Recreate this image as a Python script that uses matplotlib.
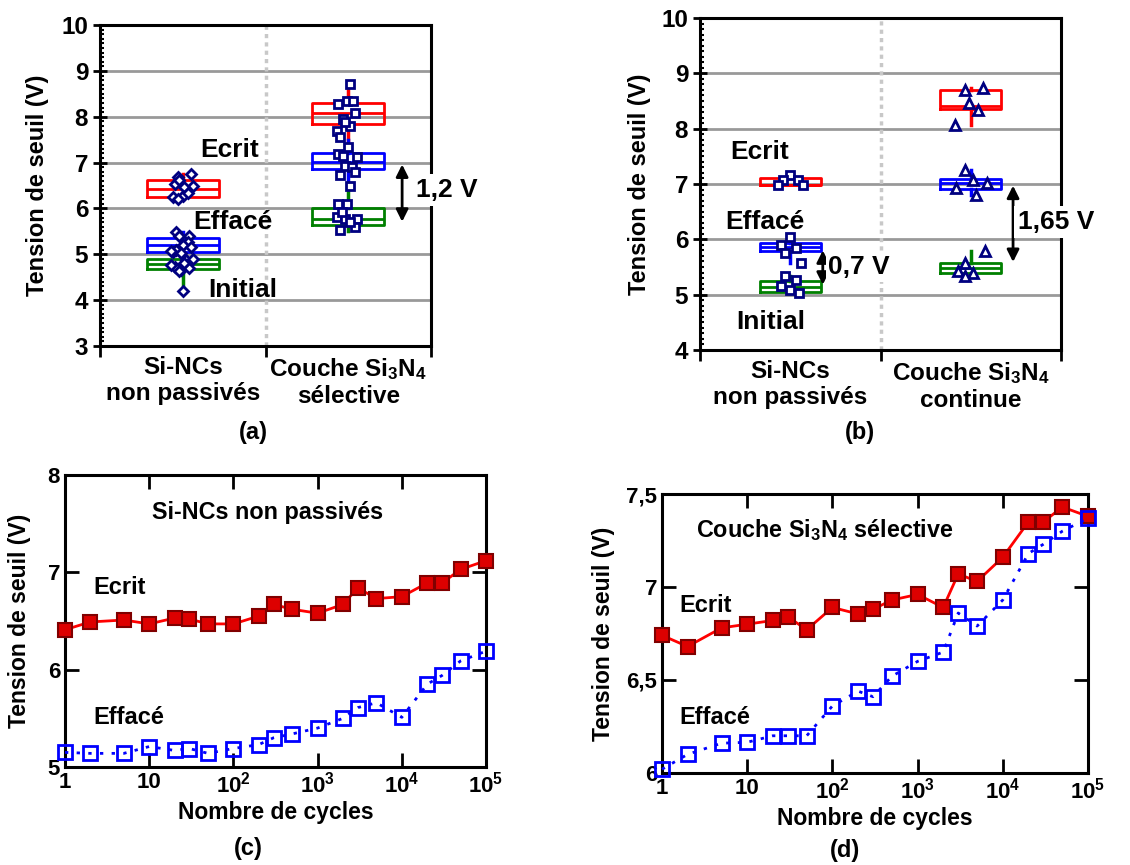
import numpy as np
import matplotlib
matplotlib.use('Agg')
import matplotlib.pyplot as plt
from matplotlib.ticker import MultipleLocator, FixedLocator, FixedFormatter

plt.rcParams['font.family'] = ['Liberation Sans', 'DejaVu Sans']
plt.rcParams['font.weight'] = 'bold'
plt.rcParams['axes.labelweight'] = 'bold'
plt.rcParams['mathtext.fontset'] = 'custom'
plt.rcParams['mathtext.rm'] = 'Liberation Sans:bold'
plt.rcParams['mathtext.bf'] = 'Liberation Sans:bold'
plt.rcParams['mathtext.default'] = 'bf'

# ---------------- données ----------------
etats = ['Ecrit', 'Effacé', 'Initial']
couleurs = {'Ecrit': '#ff0000', 'Effacé': '#0000ff', 'Initial': '#008000'}

cat_a = ['Si-NCs\nnon passivés', 'Couche Si$_3$N$_4$\nsélective']
cat_b = ['Si-NCs\nnon passivés', 'Couche Si$_3$N$_4$\ncontinue']

# boîtes : [min, Q1, médiane, Q3, max] pour chaque catégorie
box_a = {
    'Ecrit':   [[6.20, 6.24, 6.43, 6.61, 6.75], [7.50, 7.85, 8.08, 8.30, 8.70]],
    'Effacé':  [[5.00, 5.04, 5.20, 5.35, 5.48], [6.45, 6.87, 7.02, 7.20, 7.50]],
    'Initial': [[4.20, 4.67, 4.78, 4.89, 5.05], [5.50, 5.65, 5.78, 6.02, 6.35]],
}
box_b = {
    'Ecrit':   [[6.98, 6.98, 6.98, 7.10, 7.17], [8.07, 8.36, 8.41, 8.70, 8.73]],
    'Effacé':  [[5.57, 5.78, 5.86, 5.93, 6.05], [6.80, 6.91, 7.01, 7.09, 7.26]],
    'Initial': [[5.03, 5.04, 5.14, 5.25, 5.33], [5.33, 5.40, 5.48, 5.57, 5.78]],
}

# points mesurés (décalage horizontal, valeur)
pts_a_gauche_dx = [-0.03, 0.05, 0.06, -0.05, 0.01, 0.0, -0.06, -0.03, 0.03, -0.02,
                   -0.04, -0.02, 0.04, 0.03, -0.06, -0.04, 0.0, 0.05, -0.01, -0.07,
                   0.02, 0.06, -0.05, -0.01, 0.04, 0.01, -0.07, -0.02, 0.0]
pts_a_gauche_v = [6.68, 6.75, 6.50, 6.54, 6.46, 6.28, 6.25, 6.21, 6.33, 6.61,
                  5.48, 5.41, 5.41, 5.27, 5.05, 5.09, 5.20, 5.16, 5.02, 5.07,
                  4.87, 4.89, 4.72, 4.65, 4.70, 4.80, 4.76, 4.63, 4.20]
pts_a_droite_dx = [0.01, -0.06, -0.01, 0.03, 0.04, -0.03, 0.01, -0.07, -0.05, -0.02,
                   0.0, -0.06, -0.03, 0.05, -0.02, 0.02, 0.04, -0.05, 0.01,
                   -0.06, -0.01, -0.07, -0.02, 0.05, -0.04, 0.04, -0.05, 0.01]
pts_a_droite_v = [8.71, 8.28, 8.35, 8.35, 8.09, 7.95, 7.80, 7.70, 7.55, 7.88,
                  7.33, 7.19, 7.15, 7.12, 6.93, 6.90, 6.79, 6.72, 6.50,
                  6.10, 6.10, 5.81, 5.78, 5.78, 5.92, 5.59, 5.52, 5.70]
pts_b_gauche_dx = [0.0, -0.04, 0.04, -0.07, 0.07, 0.0, -0.05, 0.03, -0.03, 0.06,
                   -0.03, 0.03, -0.05, 0.05, 0.0]
pts_b_gauche_v = [7.17, 7.08, 7.08, 6.99, 6.99, 6.05, 5.90, 5.84, 5.75, 5.57,
                  5.33, 5.27, 5.15, 5.03, 5.09]
pts_b_droite_dx = [-0.03, 0.07, -0.01, 0.04, -0.09, -0.03, 0.01, 0.09, -0.08, 0.03,
                   0.08, -0.03, -0.07, 0.01, -0.03]
pts_b_droite_v = [8.70, 8.73, 8.46, 8.34, 8.07, 7.26, 7.08, 7.02, 6.93, 6.80,
                  5.78, 5.57, 5.42, 5.39, 5.33]

# cyclage
cycles = [1, 2, 5, 10, 20, 30, 50, 100, 200, 300, 500, 1000, 2000, 3000, 5000,
          1e4, 2e4, 3e4, 5e4, 1e5]
ecrit_c = [6.41, 6.49, 6.51, 6.47, 6.53, 6.52, 6.47, 6.47, 6.55, 6.67,
           6.62, 6.58, 6.67, 6.84, 6.73, 6.75, 6.89, 6.89, 7.03, 7.12]
efface_c = [5.15, 5.14, 5.14, 5.21, 5.17, 5.19, 5.14, 5.19, 5.23, 5.30,
            5.34, 5.40, 5.50, 5.61, 5.66, 5.51, 5.85, 5.94, 6.09, 6.19]
ecrit_d = [6.74, 6.68, 6.78, 6.80, 6.82, 6.84, 6.77, 6.89, 6.855, 6.88,
           6.93, 6.96, 6.89, 7.07, 7.03, 7.16, 7.35, 7.35, 7.43, 7.38]
efface_d = [6.02, 6.10, 6.16, 6.165, 6.20, 6.20, 6.20, 6.36, 6.44, 6.41,
            6.52, 6.60, 6.65, 6.86, 6.79, 6.93, 7.18, 7.23, 7.30, 7.37]

fig = plt.figure(figsize=(11.3, 8.65), dpi=100)


def gras(ax):
    for t in ax.get_xticklabels(which='both') + ax.get_yticklabels(which='both'):
        t.set_fontweight('bold')


def panneau_boites(ax, boxes, cats, width, ylim, gauche_dx, gauche_v, droite_dx, droite_v,
                   m_gauche, m_droite):
    ax.set_xlim(0, 2)
    ax.set_ylim(*ylim)
    for y in range(ylim[0] + 1, ylim[1]):
        ax.axhline(y, color='#999999', lw=2, zorder=0)
    ax.axvline(1, color='#c8c8c8', lw=2.5, ls=(0, (1.2, 1.2)), zorder=0)
    for etat in etats:
        stats = []
        for s in boxes[etat]:
            stats.append(dict(whislo=s[0], q1=s[1], med=s[2], q3=s[3], whishi=s[4], fliers=[]))
        c = couleurs[etat]
        ax.bxp(stats, positions=[0.5, 1.5], widths=width, showcaps=False, showfliers=False,
               manage_ticks=False,
               boxprops=dict(color=c, lw=2.0), medianprops=dict(color=c, lw=2.0),
               whiskerprops=dict(color=c, lw=2.5), zorder=2)
    tailles = {'D': 5, 's': 5.5, '^': 6.5}
    ax.plot(0.5 + np.array(gauche_dx), gauche_v, ls='none', marker=m_gauche,
            ms=tailles[m_gauche], mfc='white', mec='#000080', mew=2, zorder=3)
    ax.plot(1.5 + np.array(droite_dx), droite_v, ls='none', marker=m_droite,
            ms=tailles[m_droite], mfc='white', mec='#000080', mew=2, zorder=3)
    ax.set_xticks([0, 1, 2])
    ax.set_xticklabels([])
    ax.set_xticks([0.5, 1.5], cats, minor=True)
    ax.tick_params(axis='x', which='major', direction='out', length=8, width=2)
    ax.tick_params(axis='x', which='minor', length=0, labelsize=17.5, pad=7)
    ax.yaxis.set_major_locator(MultipleLocator(1))
    ax.yaxis.set_minor_locator(MultipleLocator(0.1))
    ax.tick_params(axis='y', which='major', direction='inout', length=10, width=2, labelsize=17.5)
    ax.tick_params(axis='y', which='minor', direction='in', length=3, width=1.5)
    for sp in ax.spines.values():
        sp.set_linewidth(2.2)
    ax.set_ylabel('Tension de seuil (V)', fontsize=17, fontweight='bold')
    gras(ax)


# (a)
ax_a = fig.add_axes([0.0885, 0.600, 0.293, 0.371])
panneau_boites(ax_a, box_a, cat_a, 0.435, (3, 10), pts_a_gauche_dx, pts_a_gauche_v,
               pts_a_droite_dx, pts_a_droite_v, 'D', 's')
ax_a.text(0.78, 7.28, 'Ecrit', fontsize=19, ha='center', va='center')
ax_a.text(0.80, 5.70, 'Effacé', fontsize=19, ha='center', va='center')
ax_a.text(0.86, 4.22, 'Initial', fontsize=19, ha='center', va='center')
ax_a.annotate('', xy=(1.825, 5.65), xytext=(1.825, 7.02),
              arrowprops=dict(arrowstyle='<|-|>', color='black', lw=2, mutation_scale=18))
ax_a.text(1.91, 6.4, '1,2 V', fontsize=19, ha='left', va='center', clip_on=False, zorder=5,
          bbox=dict(boxstyle='square,pad=0.15', fc='white', ec='none'))
ax_a.yaxis.set_label_coords(-0.155, 0.5)

# (b)
ax_b = fig.add_axes([0.6195, 0.5954, 0.3195, 0.3838])
panneau_boites(ax_b, box_b, cat_b, 0.34, (4, 10), pts_b_gauche_dx, pts_b_gauche_v,
               pts_b_droite_dx, pts_b_droite_v, 's', '^')
ax_b.text(0.33, 7.58, 'Ecrit', fontsize=19, ha='center', va='center')
ax_b.text(0.36, 6.32, 'Effacé', fontsize=19, ha='center', va='center')
ax_b.text(0.39, 4.51, 'Initial', fontsize=19, ha='center', va='center')
ax_b.annotate('', xy=(0.68, 5.13), xytext=(0.68, 5.85),
              arrowprops=dict(arrowstyle='<|-|>', color='black', lw=2, mutation_scale=18))
ax_b.text(0.71, 5.5, '0,7 V', fontsize=19, ha='left', va='center', zorder=5,
          bbox=dict(boxstyle='square,pad=0.1', fc='white', ec='none'))
ax_b.annotate('', xy=(1.734, 5.54), xytext=(1.734, 7.02),
              arrowprops=dict(arrowstyle='<|-|>', color='black', lw=2, mutation_scale=18))
ax_b.text(1.76, 6.32, '1,65 V', fontsize=19, ha='left', va='center', clip_on=False, zorder=5,
          bbox=dict(boxstyle='square,pad=0.15', fc='white', ec='none'))
ax_b.yaxis.set_label_coords(-0.135, 0.5)


def panneau_cycles(ax, ecrit, efface, ylim, yticks, ylabels, titre, pos_titre, pos_ecrit, pos_efface):
    ax.set_xscale('log')
    ax.set_xlim(1, 1e5)
    ax.set_ylim(*ylim)
    ax.plot(cycles, ecrit, '-', color='#ff0000', lw=2, marker='s', ms=10,
            mfc='#dd0000', mec='#800000', mew=1.5, clip_on=False, zorder=3)
    ax.plot(cycles, efface, ls=(0, (1.2, 3)), color='#0000ff', lw=2, marker='s', ms=10,
            mfc='none', mec='#0000ff', mew=2, clip_on=False, zorder=3)
    ax.xaxis.set_major_locator(FixedLocator([1, 10, 100, 1e3, 1e4, 1e5]))
    ax.xaxis.set_major_formatter(FixedFormatter(['1', '10', '10$^2$', '10$^3$', '10$^4$', '10$^5$']))
    ax.xaxis.set_minor_locator(FixedLocator([]))
    ax.set_yticks(yticks)
    ax.set_yticklabels(ylabels)
    ax.tick_params(which='major', direction='in', top=True, right=True, length=10, width=2,
                   labelsize=16)
    for sp in ax.spines.values():
        sp.set_linewidth(2.2)
    ax.set_xlabel('Nombre de cycles', fontsize=16.5, fontweight='bold', labelpad=2)
    ax.set_ylabel('Tension de seuil (V)', fontsize=16.5, fontweight='bold')
    gras(ax)
    ax.text(pos_titre[0], pos_titre[1], titre, transform=ax.transAxes, fontsize=16.8,
            ha='center', va='center')
    ax.text(pos_ecrit[0], pos_ecrit[1], 'Ecrit', transform=ax.transAxes, fontsize=17,
            ha='left', va='center')
    ax.text(pos_efface[0], pos_efface[1], 'Effacé', transform=ax.transAxes, fontsize=17,
            ha='left', va='center')


# (c)
ax_c = fig.add_axes([0.0575, 0.1133, 0.3726, 0.3376])
panneau_cycles(ax_c, ecrit_c, efface_c, (5, 8), [5, 6, 7, 8], ['5', '6', '7', '8'],
               'Si-NCs non passivés', (0.48, 0.873), (0.067, 0.613), (0.067, 0.168))
ax_c.yaxis.set_label_coords(-0.08, 0.5)

# (d)
ax_d = fig.add_axes([0.5858, 0.1064, 0.377, 0.3225])
panneau_cycles(ax_d, ecrit_d, efface_d, (6, 7.5), [6, 6.5, 7, 7.5], ['6', '6,5', '7', '7,5'],
               'Couche Si$_3$N$_4$ sélective', (0.383, 0.871), (0.042, 0.602), (0.042, 0.20))
ax_d.yaxis.set_label_coords(-0.11, 0.5)

fig.text(253 / 1130, 1 - 433 / 865, '(a)', fontsize=17, ha='center', va='center')
fig.text(860 / 1130, 1 - 432 / 865, '(b)', fontsize=17, ha='center', va='center')
fig.text(248 / 1130, 1 - 848 / 865, '(c)', fontsize=17, ha='center', va='center')
fig.text(845 / 1130, 1 - 850 / 865, '(d)', fontsize=17, ha='center', va='center')

fig.savefig('out.png', dpi=100)
